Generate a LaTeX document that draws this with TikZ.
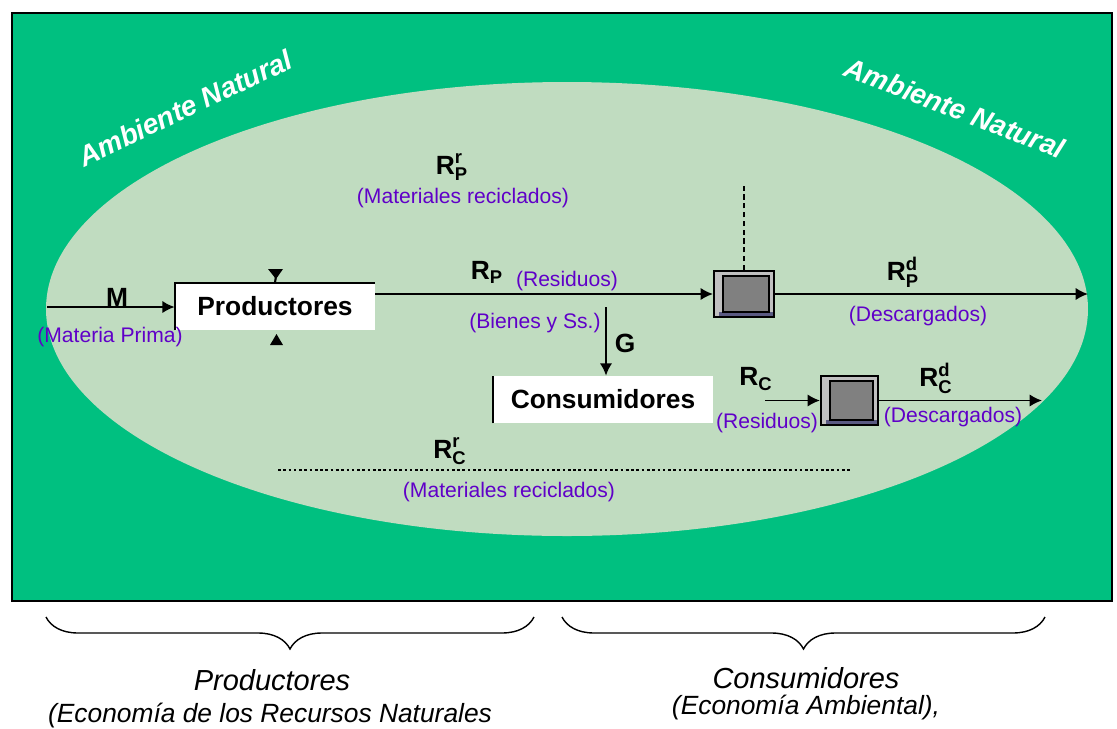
\documentclass[tikz,border=0pt]{standalone}
\usepackage{fontspec}
\setmainfont{Liberation Sans}
\usepackage{amsmath}
\usetikzlibrary{arrows.meta,decorations.pathreplacing}
\definecolor{outergreen}{RGB}{0,192,128}
\definecolor{innergreen}{RGB}{192,220,192}
\definecolor{lbl}{RGB}{96,0,200}
\definecolor{boxlight}{RGB}{192,192,192}
\definecolor{boxmid}{RGB}{128,128,128}
\definecolor{boxstrip}{RGB}{90,90,130}
\begin{document}
\begin{tikzpicture}[x=0.02cm,y=-0.02cm,
  flow/.style={line width=1.1pt,-{Latex[length=7pt,width=7pt]}},
  sym/.style={font=\fontsize{15}{18}\selectfont\bfseries, inner sep=0pt},
  note/.style={text=lbl, font=\fontsize{12}{14}\selectfont, inner sep=0pt},
  agent/.style={fill=white, minimum height=0.94cm, inner sep=0pt, font=\fontsize{15}{18}\selectfont\bfseries},
  treat/.style={draw=black, line width=1.2pt, fill=boxlight, inner sep=0pt,
    path picture={
      \fill[boxstrip] ([xshift=3pt,yshift=0.4pt]path picture bounding box.south west) rectangle ([xshift=-0.5pt,yshift=2.8pt]path picture bounding box.south east);
      \filldraw[fill=boxmid, draw=black, line width=1pt] ([xshift=5pt,yshift=2.8pt]path picture bounding box.south west) rectangle ([xshift=-2.8pt,yshift=-2.8pt]path picture bounding box.north east);
    }},
  env/.style={text=white, font=\fontsize{16}{19}\selectfont\bfseries\itshape, inner sep=0pt},
  bracestyle/.style={decorate, decoration={brace, mirror, amplitude=0.64cm}, line width=0.8pt},
  caption/.style={font=\fontsize{16.5}{19}\selectfont\itshape, inner sep=0pt},
  subcaption/.style={font=\fontsize{15}{18}\selectfont\itshape, inner sep=0pt},
  tri/.style={fill=black}
]
\useasboundingbox (0,0) rectangle (1117,728);
% background
\filldraw[fill=outergreen, draw=black, line width=1.2pt] (12,13) rectangle (1112,601);
\fill[innergreen] (567,309) ellipse [x radius=521, y radius=227];
\node[env, rotate=25.5] (envl) at (185,108) {Ambiente Natural};
\node[env, rotate=-21] (envr) at (955,108) {Ambiente Natural};

% agents
\node[agent, minimum width=4cm] (prod) at (275,306.5) {Productores};
\draw[line width=1.2pt] (prod.south west) -- (prod.north west) -- (prod.north east);
\node[agent, minimum width=4.4cm] (cons) at (603,399.5) {Consumidores};
\draw[line width=1.2pt] (cons.south west) -- (cons.north west);

% treatment boxes
\node[treat, minimum width=1.2cm, minimum height=0.92cm] (box1) at (744,294) {};
\node[treat, minimum width=1.14cm, minimum height=0.98cm] (box2) at (849.5,400.5) {};

% small triangles at Productores
\fill[tri] (268,269) -- (283,269) -- (276,279) -- cycle;
\draw[line width=1.2pt] (276,276) -- (prod.north);
\fill[tri] (270,345) -- (283,345) -- (276.5,334) -- cycle;

% M
\coordinate (mstart) at (47,307);
\draw[flow] (mstart) -- (mstart -| prod.west);
\node[sym] (mlab) at (117,297) {M};
\node[note] (mnote) at (110,337) {(Materia Prima)};

% R_P
\coordinate (rpstart) at (375,294);
\draw[flow] (rpstart) -- (box1.west);
\node[sym] (rplab) at (487,272) {$\textbf{R}_{\textbf{P}}$};
\node[note] (rpnote) at (567,281) {(Residuos)};

% R_P^d
\coordinate (rpdend) at (1088,294);
\draw[flow] (box1.east) -- (rpdend);
\node[sym] (rpdlab) at (903,272) {$\textbf{R}_{\textbf{P}}^{\textbf{d}}$};
\node[note] (rpdnote) at (918,316) {(Descargados)};

% dotted line above box1
\coordinate (dtop) at (744,185);
\draw[line width=1.1pt, dash pattern=on 3pt off 2pt] (box1.north) -- (dtop);

% R_P^r
\node[sym] (rprlab) at (452,167) {$\textbf{R}_{\textbf{P}}^{\textbf{r}}$};
\node[note] (rprnote) at (463,198) {(Materiales reciclados)};

% G
\coordinate (gstart) at (606,307);
\draw[flow] (gstart) -- (gstart |- cons.north);
\node[sym] (glab) at (625,343) {G};
\node[note] (gnote) at (535,323) {(Bienes y Ss.)};

% R_C
\coordinate (rcstart) at (765,400.5);
\draw[flow] (rcstart) -- (box2.west);
\node[sym] (rclab) at (756,379) {$\textbf{R}_{\textbf{C}}$};
\node[note] (rcnote) at (767,423) {(Residuos)};

% R_C^d
\coordinate (rcdend) at (1042,400.5);
\draw[flow] (box2.east) -- (rcdend);
\node[sym] (rcdlab) at (936,378) {$\textbf{R}_{\textbf{C}}^{\textbf{d}}$};
\node[note] (rcdnote) at (953,417) {(Descargados)};

% R_C^r
\coordinate (rcra) at (278,470);
\coordinate (rcrb) at (850,470);
\draw[line width=0.9pt, dash pattern=on 1.5pt off 1.5pt] (rcra) -- (rcrb);
\node[sym] (rcrlab) at (450,451) {$\textbf{R}_{\textbf{C}}^{\textbf{r}}$};
\node[note] (rcrnote) at (509,492) {(Materiales reciclados)};

% braces
\coordinate (bl1) at (46,617);
\coordinate (bl2) at (534,617);
\coordinate (br1) at (562,617);
\coordinate (br2) at (1045,617);
\draw[bracestyle] (bl1) -- (bl2);
\draw[bracestyle] (br1) -- (br2);

\node[caption] (capl) at (272,680) {Productores};
\node[subcaption] (subl) at (270,716) {(Economía de los Recursos Naturales};
\node[caption] (capr) at (806,678) {Consumidores};
\node[subcaption] (subr) at (806,708) {(Economía Ambiental),};
\end{tikzpicture}
\end{document}
